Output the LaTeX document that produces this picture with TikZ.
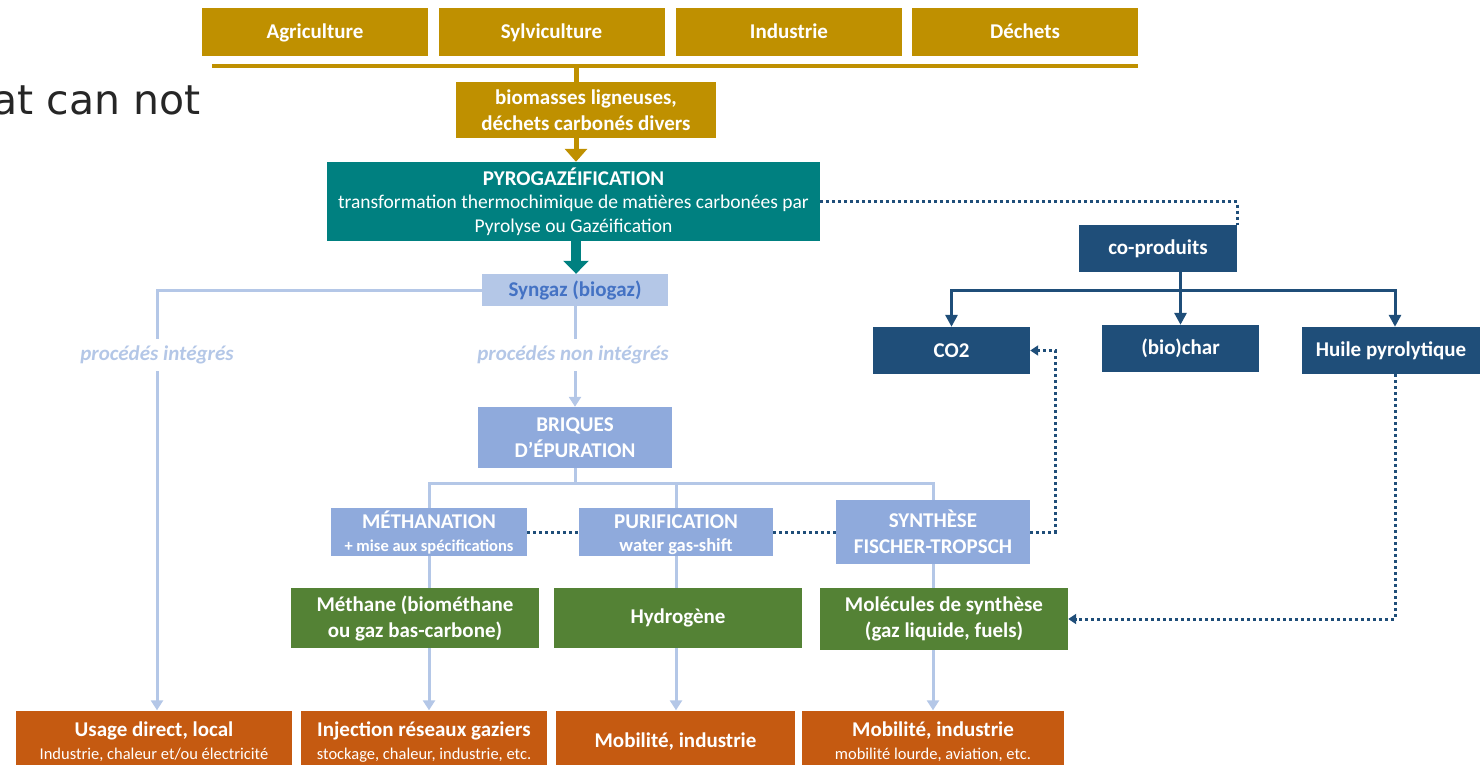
\documentclass[tikz,border=0pt]{standalone}
\usepackage{fontspec}
\setmainfont{Carlito}
\newfontfamily\slidefont{DejaVu Sans}
\usetikzlibrary{arrows.meta}

\definecolor{gold}{HTML}{BF9000}
\definecolor{pyroteal}{HTML}{008080}
\definecolor{synfill}{HTML}{B4C7E7}
\definecolor{syntext}{HTML}{4472C4}
\definecolor{stepfill}{HTML}{8FAADC}
\definecolor{navy}{HTML}{1F4E79}
\definecolor{prodgreen}{HTML}{548235}
\definecolor{useorange}{HTML}{C55A11}

\tikzstyle{box} = [inner sep=0pt, align=center, text=white, font=\fontsize{21}{26}\selectfont\bfseries]
\tikzstyle{source} = [box, fill=gold, minimum width=226pt, minimum height=48pt, text height=14pt, text depth=1pt]
\tikzstyle{feed} = [box, fill=gold]
\tikzstyle{procbox} = [box, fill=stepfill]
\tikzstyle{cobox} = [box, fill=navy, minimum width=157pt, minimum height=47pt]
\tikzstyle{prodbox} = [box, fill=prodgreen, minimum width=248pt]
\tikzstyle{usebox} = [box, fill=useorange, minimum height=63pt]
\tikzstyle{branch} = [inner sep=7pt, text=synfill, font=\fontsize{21}{26}\selectfont\bfseries\itshape]
\tikzstyle{flow} = [draw=synfill, line width=3pt]
\tikzstyle{flowarrow} = [flow, -{Triangle[width=12pt,length=10pt]}]
\tikzstyle{coarrow} = [draw=navy, line width=3pt, -{Triangle[width=12pt,length=12pt]}]
\tikzstyle{dotline} = [draw=navy, line width=3pt, dash pattern=on 3pt off 3pt]
\tikzstyle{dotarrow} = [dotline, -{Triangle[width=10pt,length=8pt]}]

\newcommand{\smalltext}[1]{{\mdseries\fontsize{16.5}{20}\selectfont #1}}
\newcommand{\pyrotext}[1]{{\mdseries\fontsize{19.5}{23}\selectfont #1}}

\begin{document}
\begin{tikzpicture}[x=1pt,y=-1pt]
    \useasboundingbox (0,0) rectangle (1480,765);
    \clip (0,0) rectangle (1480,765);

    \node (intro) [anchor=base east, inner sep=0pt, text=black!85, font=\slidefont\fontsize{41}{48}\selectfont] at (201,115) {at can not};

    % sources
    \node (agri) [source] at (315,32) {Agriculture};
    \node (sylvi) [source] at (551.5,32) {Sylviculture};
    \node (indus) [source] at (789,32) {Industrie};
    \node (dechets) [source] at (1025,32) {Déchets};
    \coordinate (barl) at (212,66);
    \coordinate (barr) at (1138,66);
    \coordinate (barm) at (576,66);
    \draw[gold, line width=4pt] (barl) -- (barr);

    \node (biomasse) [feed, minimum width=260pt, minimum height=56pt] at (586,110) {biomasses ligneuses,\\déchets carbonés divers};
    \node (pyro) [box, fill=pyroteal, minimum width=493pt, minimum height=79pt] at (573.5,201.5)
        {PYROGAZÉIFICATION\\[-3pt]\pyrotext{transformation thermochimique de matières carbonées par}\\[-2pt]\pyrotext{Pyrolyse ou Gazéification}};
    \draw[gold, line width=5pt] (barm) -- (barm |- biomasse.north);
    \draw[gold, line width=5pt, -{Triangle[width=22pt,length=13pt]}] (biomasse.south -| barm) -- (barm |- pyro.north);

    % syngaz
    \node (syngaz) [box, fill=synfill, text=syntext, minimum width=186pt, minimum height=32pt] at (575,290) {Syngaz (biogaz)};
    \draw[pyroteal, line width=10pt, -{Triangle[width=25pt,length=13pt]}] (pyro.south -| barm) -- (barm |- syngaz.north);

    \node (integ) [branch] at (157,355) {procédés intégrés};
    \node (nonint) [branch] at (573,355) {procédés non intégrés};

    % epuration
    \node (briques) [procbox, minimum width=194pt, minimum height=61pt] at (575,437.5) {BRIQUES\\D’ÉPURATION};
    \node (methan) [procbox, minimum width=196pt, minimum height=48pt] at (429,532) {MÉTHANATION\\[-3pt]{\fontsize{16.5}{20}\selectfont + mise aux spécifications}};
    \node (purif) [procbox, minimum width=194pt, minimum height=48pt] at (676,532) {\rule{0pt}{19.5pt}PURIFICATION\\[-3pt]{\fontsize{18.5}{22}\selectfont water gas-shift}};
    \node (synth) [procbox, minimum width=194pt, minimum height=64pt] at (933,532) {SYNTHÈSE\\FISCHER-TROPSCH};
    \coordinate (split) at (575,483);

    % produits
    \node (methane) [prodbox, minimum height=60pt] at (415,618) {Méthane (biométhane\\ou gaz bas-carbone)};
    \node (hydro) [prodbox, minimum height=60pt] at (678,618) {Hydrogène};
    \node (molec) [prodbox, minimum height=62pt] at (944,619) {Molécules de synthèse\\(gaz liquide, fuels)};

    % usages
    \node (usage) [usebox, minimum width=276pt] at (154,742) {Usage direct, local\\[-3pt]\smalltext{Industrie, chaleur et/ou électricité}};
    \node (inject) [usebox, minimum width=246pt] at (424,742) {Injection réseaux gaziers\\[-3pt]\smalltext{stockage, chaleur, industrie, etc.}};
    \node (mobil) [usebox, minimum width=239pt] at (675.5,742) {Mobilité, industrie};
    \node (mobilb) [usebox, minimum width=262pt] at (933,742) {Mobilité, industrie\\[-3pt]\smalltext{mobilité lourde, aviation, etc.}};

    % co-produits
    \node (coprod) [cobox, minimum width=158pt] at (1158,248.5) {co-produits};
    \node (cotwo) [cobox] at (951.5,350.5) {CO2};
    \node (biochar) [cobox] at (1180.5,348.5) {(bio)char};
    \node (huile) [cobox, minimum width=186pt] at (1395,350.5) {\hspace*{-8pt}Huile pyrolytique};
    \coordinate (cosplit) at (1180.5,290);

    % flows
    \draw[flow] (syngaz.west) -| (integ.north);
    \draw[flowarrow] (integ.south) -- (integ.south |- usage.north);
    \draw[flow] (syngaz.south) -- (syngaz.south |- nonint.north);
    \draw[flowarrow] (syngaz.south |- nonint.south) -- (briques.north);
    \draw[flow] (briques.south) -- (split);
    \draw[flow] (methan.north) |- (split) -| (synth.north);
    \draw[flow] (purif.north) -- (purif.north |- split);
    \draw[flow] (methan.south) -- (methan.south |- methane.north);
    \draw[flow] (purif.south) -- (purif.south |- hydro.north);
    \draw[flow] (synth.south) -- (synth.south |- molec.north);
    \draw[flowarrow] (methan.south |- methane.south) -- (methan.south |- inject.north);
    \draw[flowarrow] (purif.south |- hydro.south) -- (purif.south |- mobil.north);
    \draw[flowarrow] (synth.south |- molec.south) -- (synth.south |- mobilb.north);

    \draw[navy, line width=3pt] (coprod.south -| cosplit) -- (cosplit);
    \draw[coarrow] (cosplit) -| (cotwo.north);
    \draw[coarrow] (cosplit) -- (biochar.north);
    \draw[coarrow] (cosplit) -| (huile.north);

    \draw[dotline] (pyro.east) -| (coprod.north east);
    \draw[dotline] (methan.east) -- (purif.west);
    \draw[dotline] (purif.east) -- (synth.west);
    \draw[dotarrow] (synth.east) -- ++(25,0) |- (cotwo.east);
    \draw[dotarrow] (huile.south) |- (molec.east);
\end{tikzpicture}
\end{document}
